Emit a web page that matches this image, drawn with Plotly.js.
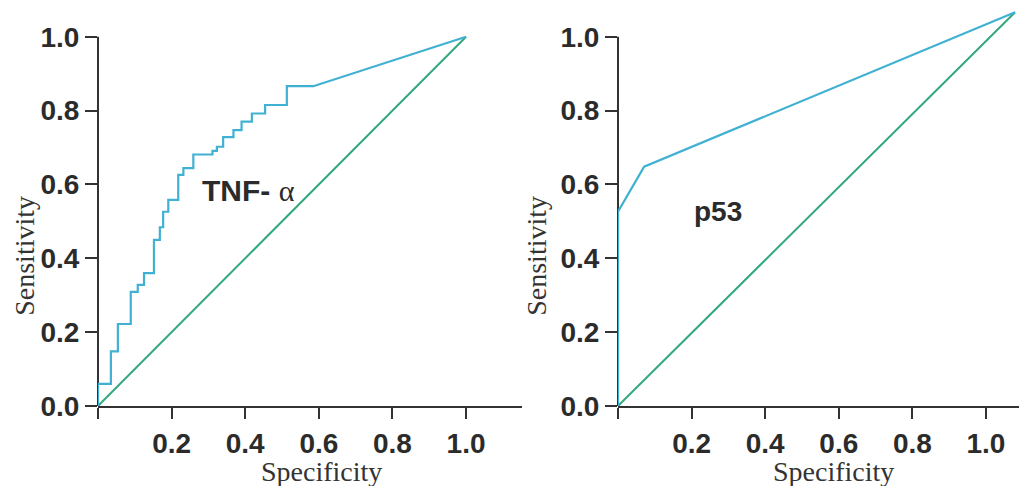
<!DOCTYPE html>
<html>
<head>
<meta charset="utf-8">
<script src="https://cdn.plot.ly/plotly-3.0.1.min.js"></script>
<style>
  html, body { margin: 0; padding: 0; background: #ffffff; }
  #chart { width: 1019px; height: 486px; }
</style>
</head>
<body>
<div id="chart"></div>
<script>
// ROC curve of TNF-α: specificity where each step occurs and the sensitivity reached there
const tnfStepSpec = [0, 0.035, 0.054, 0.089, 0.108, 0.125, 0.152, 0.168, 0.177, 0.191, 0.218,
                     0.232, 0.259, 0.311, 0.323, 0.340, 0.368, 0.390, 0.418, 0.454, 0.513];
const tnfStepSens = [0.060, 0.148, 0.222, 0.309, 0.328, 0.360, 0.450, 0.484, 0.526, 0.558, 0.626,
                     0.644, 0.681, 0.691, 0.702, 0.728, 0.747, 0.770, 0.792, 0.815, 0.866];
// straight final segment of the TNF-α curve
const tnfTailSpec = [0.585, 1.0];
const tnfTailSens = [0.866, 1.0];

// ROC curve of p53
const p53Spec = [0, 0, 0.071, 1.079];
const p53Sens = [0, 0.526, 0.648, 1.066];

// chance lines
const tnfRefSpec = [0, 1.0];
const tnfRefSens = [0, 1.0];
const p53RefSpec = [0, 1.079];
const p53RefSens = [0, 1.066];

// axis ticks
const xTickVals = [0, 0.2, 0.4, 0.6, 0.8, 1.0];
const xTickText = ['', '0.2', '0.4', '0.6', '0.8', '1.0'];
const yTickVals = [0, 0.2, 0.4, 0.6, 0.8, 1.0];
const yTickText = ['0.0', '0.2', '0.4', '0.6', '0.8', '1.0'];

const rocColor = '#41b1d3';
const refColor = '#33a87c';
const inkColor = '#2b2b2b';
const axisColor = '#333333';

// expand the step list into corner points (vertical rise at each specificity)
function stepCorners(xs, ys, tailX, tailY) {
  const px = [0], py = [0];
  let prev = 0;
  xs.forEach((x, i) => { px.push(x, x); py.push(prev, ys[i]); prev = ys[i]; });
  tailX.forEach((x, i) => { px.push(x); py.push(tailY[i]); });
  return { px, py };
}
const tnf = stepCorners(tnfStepSpec, tnfStepSens, tnfTailSpec, tnfTailSens);

// page geometry
const W = 1019, H = 486, L = 98, R = 0, T = 8.75, B = 79.5;
const pw = W - L - R, ph = H - T - B;
const fx = p => (p - L) / pw;
const fy = p => (H - B - p) / ph;
const yMax = 1.075;
const leftDomain = [0, 0.4604];
const rightDomain = [0.5646, 1];

const traces = [
  { x: tnfRefSpec, y: tnfRefSens, xaxis: 'x', yaxis: 'y', mode: 'lines',
    line: { color: refColor, width: 2 }, hoverinfo: 'skip' },
  { x: tnf.px, y: tnf.py, xaxis: 'x', yaxis: 'y', mode: 'lines',
    line: { color: rocColor, width: 2.2 }, name: 'TNF-α' },
  { x: p53RefSpec, y: p53RefSens, xaxis: 'x2', yaxis: 'y2', mode: 'lines',
    line: { color: refColor, width: 2 }, hoverinfo: 'skip' },
  { x: p53Spec, y: p53Sens, xaxis: 'x2', yaxis: 'y2', mode: 'lines',
    line: { color: rocColor, width: 2.2 }, name: 'p53' }
];

const tickFont = { family: 'Liberation Sans, Arial, sans-serif', size: 28, color: inkColor, weight: 'bold' };
const titleFont = { family: 'Liberation Serif, Times New Roman, serif', size: 28, color: '#333333' };

function xAxis(domain, range, anchor) {
  return {
    domain, range, anchor, tickvals: xTickVals, ticktext: xTickText,
    ticks: 'outside', ticklen: 11, tickwidth: 2, tickcolor: axisColor,
    showline: true, linecolor: axisColor, linewidth: 2,
    showgrid: false, zeroline: false, tickfont: tickFont, layer: 'below traces',
    fixedrange: true
  };
}
function yAxis(anchor) {
  return {
    domain: [0, 1], range: [0, yMax], anchor, tickvals: yTickVals, ticktext: yTickText,
    ticks: 'outside', ticklen: 12, tickwidth: 2, tickcolor: axisColor,
    showline: false, showgrid: false, zeroline: false, tickfont: tickFont,
    layer: 'below traces', fixedrange: true
  };
}

// vertical axis lines that stop at 1.0
function axisLine(xPaper) {
  return { type: 'line', xref: 'paper', yref: 'y domain', x0: xPaper, x1: xPaper,
           y0: 0, y1: 1 / yMax, line: { color: axisColor, width: 2 }, layer: 'below' };
}

function label(text, px, py, opts) {
  return Object.assign({ text, x: fx(px), y: fy(py), xref: 'paper', yref: 'paper',
    showarrow: false, xanchor: 'center', yanchor: 'middle', font: titleFont }, opts || {});
}

const layout = {
  width: W, height: H,
  margin: { l: L, r: R, t: T, b: B, pad: 0 },
  paper_bgcolor: '#ffffff', plot_bgcolor: 'rgba(0,0,0,0)',
  showlegend: false,
  xaxis: xAxis(leftDomain, [0, 1.152], 'y'),
  yaxis: yAxis('x'),
  xaxis2: xAxis(rightDomain, [0, 1.0897], 'y2'),
  yaxis2: yAxis('x2'),
  shapes: [axisLine(leftDomain[0]), axisLine(rightDomain[0])],
  annotations: [
    label('Sensitivity', 25, 256, { textangle: -90 }),
    label('Sensitivity', 537, 256, { textangle: -90 }),
    label('Specificity', 321, 472, { borderpad: 0 }),
    label('Specificity', 833.5, 472, { borderpad: 0 }),
    label('TNF- <span style="font-family:Liberation Serif, serif;font-weight:normal">α</span>', 200, 191,
          { xanchor: 'left', font: { family: 'Liberation Sans, Arial, sans-serif', size: 30, color: inkColor, weight: 'bold' } }),
    label('p53', 692, 212,
          { xanchor: 'left', font: { family: 'Liberation Sans, Arial, sans-serif', size: 28, color: inkColor, weight: 'bold' } })
  ]
};

Plotly.newPlot('chart', traces, layout, { staticPlot: true, displayModeBar: false });
</script>
</body>
</html>
